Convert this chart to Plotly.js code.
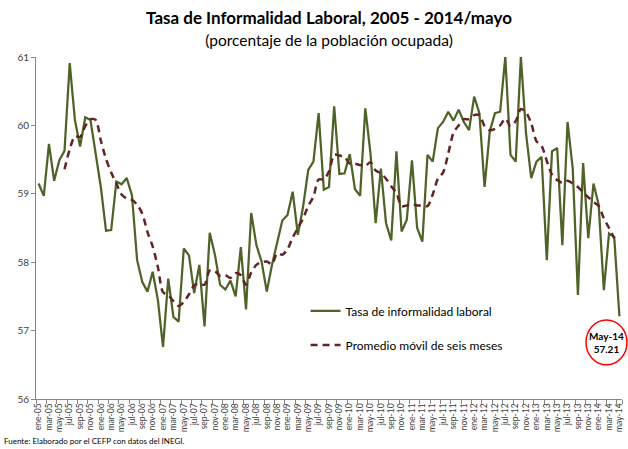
<!DOCTYPE html>
<html>
<head>
<meta charset="utf-8">
<script src="https://cdn.plot.ly/plotly-3.0.1.min.js"></script>
<style>html,body{margin:0;padding:0;background:#fff;}#chart{width:628px;height:449px;}</style>
</head>
<body>
<div id="chart"></div>
<script>
// Categories: monthly, ene-05 .. may-14
const categories = [
 'ene-05','feb-05','mar-05','abr-05','may-05','jun-05','jul-05','ago-05','sep-05','oct-05','nov-05','dic-05',
 'ene-06','feb-06','mar-06','abr-06','may-06','jun-06','jul-06','ago-06','sep-06','oct-06','nov-06','dic-06',
 'ene-07','feb-07','mar-07','abr-07','may-07','jun-07','jul-07','ago-07','sep-07','oct-07','nov-07','dic-07',
 'ene-08','feb-08','mar-08','abr-08','may-08','jun-08','jul-08','ago-08','sep-08','oct-08','nov-08','dic-08',
 'ene-09','feb-09','mar-09','abr-09','may-09','jun-09','jul-09','ago-09','sep-09','oct-09','nov-09','dic-09',
 'ene-10','feb-10','mar-10','abr-10','may-10','jun-10','jul-10','ago-10','sep-10','oct-10','nov-10','dic-10',
 'ene-11','feb-11','mar-11','abr-11','may-11','jun-11','jul-11','ago-11','sep-11','oct-11','nov-11','dic-11',
 'ene-12','feb-12','mar-12','abr-12','may-12','jun-12','jul-12','ago-12','sep-12','oct-12','nov-12','dic-12',
 'ene-13','feb-13','mar-13','abr-13','may-13','jun-13','jul-13','ago-13','sep-13','oct-13','nov-13','dic-13',
 'ene-14','feb-14','mar-14','abr-14','may-14'
];

// Tasa de informalidad laboral (%)
const tasa = [
 59.15,58.97,59.73,59.19,59.49,59.63,60.91,60.08,59.69,60.12,60.08,59.60,
 59.10,58.46,58.47,59.18,59.14,59.23,58.98,58.03,57.71,57.57,57.86,57.45,
 56.76,57.76,57.20,57.13,58.20,58.10,57.55,57.96,57.06,58.43,58.11,57.67,
 57.60,57.73,57.50,58.22,57.31,58.72,58.25,58.01,57.57,57.96,58.28,58.61,
 58.69,59.03,58.40,58.81,59.35,59.47,60.18,59.06,59.10,60.28,59.29,59.30,
 59.58,59.07,58.97,60.25,59.59,58.57,59.37,58.57,58.32,59.62,58.45,58.62,
 59.49,58.50,58.30,59.57,59.47,59.96,60.05,60.20,60.07,60.23,60.05,59.93,
 60.42,60.18,59.10,59.91,60.18,60.20,61.00,59.57,59.47,61.00,59.88,59.23,
 59.47,59.54,58.03,59.62,59.67,58.25,60.05,59.37,57.52,59.45,58.35,59.15,
 58.84,57.59,58.42,58.37,57.21
];

// Promedio móvil de seis meses (from jun-05 to abr-14)
const promedioCats = categories.slice(5, 112);
const promedio = [
 59.36,59.65,59.84,59.83,59.99,60.09,60.08,
 59.78,59.51,59.31,59.15,58.99,58.93,58.91,58.84,58.71,58.44,58.23,57.93,
 57.56,57.52,57.43,57.36,57.42,57.53,57.66,57.69,57.67,57.88,57.87,57.80,
 57.81,57.77,57.84,57.81,57.67,57.85,57.96,58.00,58.01,57.97,58.13,58.11,
 58.19,58.36,58.50,58.64,58.82,58.96,59.21,59.21,59.33,59.57,59.56,59.54,
 59.44,59.44,59.42,59.41,59.46,59.34,59.30,59.22,59.11,59.01,58.82,58.83,
 58.85,58.83,58.83,58.82,58.99,59.22,59.31,59.59,59.89,60.00,60.09,60.09,
 60.15,60.15,59.99,59.93,59.95,60.00,60.10,59.99,60.06,60.24,60.19,60.03,
 59.77,59.70,59.48,59.28,59.20,59.16,59.19,59.15,59.10,59.02,58.95,58.88,
 58.82,58.64,58.50,58.35
];

// Tick labels: every second month
const tickLabels = categories.filter((c, i) => i % 2 === 0);

const seriesNames = ['Tasa de informalidad laboral', 'Promedio móvil de seis meses'];
const yTicks = [56, 57, 58, 59, 60, 61];
const calloutLabel = 'May-14';

const FONT = 'Lato, "Open Sans", sans-serif';

const traces = [
  {
    x: categories, y: tasa, type: 'scatter', mode: 'lines', name: seriesNames[0],
    legendgroup: 'a', cliponaxis: false,
    line: {color: '#4F6228', width: 2.25}
  },
  {
    x: promedioCats, y: promedio, type: 'scatter', mode: 'lines', name: seriesNames[1],
    legendgroup: 'b', cliponaxis: false,
    line: {color: '#632523', width: 2.5, dash: '7px,5px', shape: 'spline', smoothing: 0.8}
  }
];

const layout = {
  width: 628, height: 449,
  margin: {l: 36, r: 6, t: 57, b: 50},
  paper_bgcolor: '#ffffff', plot_bgcolor: '#ffffff',
  font: {family: FONT, color: '#404040', size: 10},
  title: {
    text: '<b>Tasa de Informalidad Laboral, 2005 - 2014/mayo</b><br><span style="font-size:15.5px">(porcentaje de la población ocupada)</span>',
    font: {family: FONT, size: 17, color: '#000000'},
    x: 0.5, xanchor: 'center', xref: 'paper',
    y: 0.947, yanchor: 'top', yref: 'container'
  },
  showlegend: true,
  legend: {
    x: 0.46, xanchor: 'left', y: 0.30, yanchor: 'top',
    bgcolor: 'rgba(0,0,0,0)', borderwidth: 0,
    font: {family: FONT, size: 12, color: '#000000'},
    traceorder: 'grouped', tracegroupgap: 15
  },
  xaxis: {
    type: 'category',
    categoryorder: 'array', categoryarray: categories,
    range: [-0.5, categories.length - 0.5],
    tickmode: 'array', tickvals: tickLabels, ticktext: tickLabels,
    tickangle: -90, tickson: 'boundaries',
    ticks: 'outside', ticklen: 4, tickcolor: '#868686',
    showline: true, linecolor: '#868686', linewidth: 1,
    showgrid: false, zeroline: false,
    tickfont: {family: FONT, size: 8.5, color: '#404040'}
  },
  yaxis: {
    range: [56, 61], tickvals: yTicks,
    ticks: 'outside', ticklen: 4, tickcolor: '#868686',
    showline: true, linecolor: '#868686', linewidth: 1,
    showgrid: false, zeroline: false,
    tickfont: {family: FONT, size: 10, color: '#404040'}
  },
  shapes: [
    {type: 'circle', xref: 'paper', yref: 'paper',
     x0: 0.9386, x1: 1.0085, y0: 0.100, y1: 0.231,
     line: {color: '#FF0000', width: 1.5}, fillcolor: 'rgba(0,0,0,0)'}
  ],
  annotations: [
    {xref: 'paper', yref: 'paper', x: 0.9735, y: 0.166, xanchor: 'center', yanchor: 'middle',
     text: '<b>' + calloutLabel + '<br>' + tasa[tasa.length - 1].toFixed(2) + '</b>',
     showarrow: false, font: {family: FONT, size: 10, color: '#000000'}, align: 'center'},
    {xref: 'paper', yref: 'paper', x: -0.058, y: -0.1445, xanchor: 'left', yanchor: 'bottom',
     text: 'Fuente: Elaborado por el CEFP con datos del INEGI.',
     showarrow: false, font: {family: FONT, size: 8, color: '#000000'}}
  ]
};

Plotly.newPlot('chart', traces, layout, {displayModeBar: false, staticPlot: true});
</script>
</body>
</html>
